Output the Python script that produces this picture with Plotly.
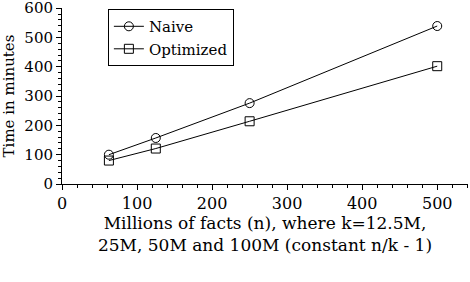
import plotly.graph_objects as go

facts = [62.5, 125, 250, 500]
naive = [100, 157, 276, 539]
optimized = [80, 121, 214, 402]
series_names = ["Naive", "Optimized"]

FONT = "DejaVu Serif"
fig = go.Figure()
fig.add_trace(go.Scatter(x=facts, y=naive, name=series_names[0], mode="lines+markers",
                         line=dict(color="black", width=1),
                         marker=dict(symbol="circle-open", size=9, color="black", line=dict(width=1))))
fig.add_trace(go.Scatter(x=facts, y=optimized, name=series_names[1], mode="lines+markers",
                         line=dict(color="black", width=1),
                         marker=dict(symbol="square-open", size=9, color="black", line=dict(width=1))))

fig.update_layout(
    width=470, height=282,
    margin=dict(l=62, r=2, t=8, b=98),
    paper_bgcolor="white", plot_bgcolor="white",
    font=dict(family=FONT, size=16, color="black"),
    showlegend=True,
    legend=dict(x=0.113, y=0.994, xanchor="left", yanchor="top",
                bordercolor="black", borderwidth=1, bgcolor="white",
                font=dict(size=15), tracegroupgap=0, itemwidth=30),
    xaxis=dict(range=[0, 541], tickmode="linear", tick0=0, dtick=100, automargin=False,
               showgrid=False, zeroline=False, showline=True, linecolor="black", linewidth=1,
               ticks="outside", ticklen=5, tickcolor="black", tickfont=dict(size=16),
               ticklabeloverflow="allow",
               minor=dict(dtick=20, ticks="outside", ticklen=3, tickcolor="black", showgrid=False),
               title=dict(text="Millions of facts (n), where k=12.5M,<br>25M, 50M and 100M (constant n/k - 1)",
                          standoff=4, font=dict(size=17))),
    yaxis=dict(range=[0, 600.5], tickmode="linear", tick0=0, dtick=100, automargin=False,
               showgrid=False, zeroline=False, showline=True, linecolor="black", linewidth=1,
               ticks="outside", ticklen=5, tickcolor="black", tickfont=dict(size=15),
               ticklabeloverflow="allow",
               minor=dict(dtick=20, ticks="outside", ticklen=3, tickcolor="black", showgrid=False),
               title=dict(text="Time in minutes", standoff=7, font=dict(size=15))),
)
fig.write_html("out.html", config={"displayModeBar": False},
               post_script="document.body.style.margin='0';document.body.style.overflow='hidden';")
